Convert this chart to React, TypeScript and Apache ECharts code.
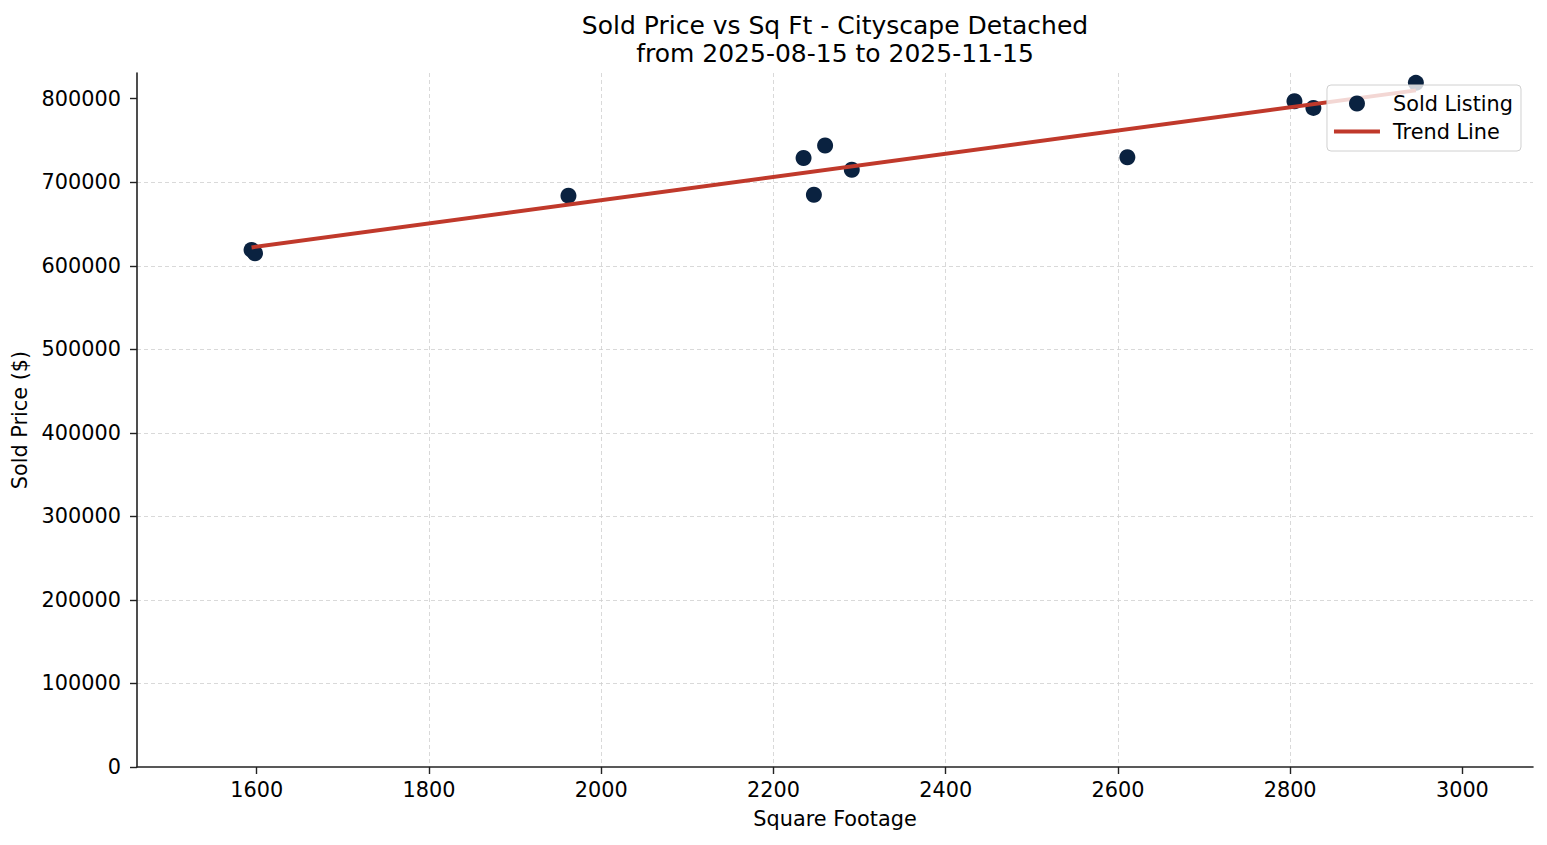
import { useRef, useEffect } from "react";
import * as echarts from "echarts";

// 散点数据：面积 / 成交价
const sqft = [1594, 1598, 1962, 2235, 2247, 2260, 2291, 2611, 2805, 2827, 2946];
const soldPrice = [619000, 615000, 684000, 729000, 685000, 744000, 715000, 730000, 797000, 789000, 819000];

// 趋势线两端
const trendX = [1594, 2946];
const trendY = [622000, 810000];

// 刻度
const xTicks = [1600, 1800, 2000, 2200, 2400, 2600, 2800, 3000];
const yTicks = [0, 100000, 200000, 300000, 400000, 500000, 600000, 700000, 800000];

const titleLines = ["Sold Price vs Sq Ft - Cityscape Detached", "from 2025-08-15 to 2025-11-15"];

const FONT = "DejaVu Sans";
const FS = 20.8;

const App = () => {
  const chartRef = useRef<HTMLDivElement>(null);

  useEffect(() => {
    const myChart = echarts.init(chartRef.current, null, { renderer: "svg" });

    const gridLine = {
      show: true,
      showMinLine: false,
      showMaxLine: false,
      lineStyle: { color: "#cfcfcf", width: 0.8, type: [4, 3] },
    };
    const axisLine = { show: true, lineStyle: { color: "#222", width: 1.6 } };
    const tick = (vals: number[]) => ({
      show: true,
      length: 7,
      customValues: vals,
      lineStyle: { color: "#222", width: 1.4 },
    });
    const label = (vals: number[], margin: number) => ({
      customValues: vals,
      margin,
      fontFamily: FONT,
      fontSize: FS,
      color: "#000",
      formatter: (v: number) => String(v),
    });

    const option = {
      animation: false,
      textStyle: { fontFamily: FONT },
      graphic: [
        {
          type: "text",
          x: 835,
          y: 25,
          style: {
            text: titleLines[0],
            font: `25px "${FONT}"`,
            fill: "#000",
            textAlign: "center",
            textVerticalAlign: "middle",
          },
        },
        {
          type: "text",
          x: 835,
          y: 53,
          style: {
            text: titleLines[1],
            font: `25px "${FONT}"`,
            fill: "#000",
            textAlign: "center",
            textVerticalAlign: "middle",
          },
        },
      ],
      grid: { left: 137, right: 14, top: 73, bottom: 78 },
      legend: {
        orient: "vertical",
        right: 26,
        top: 85,
        padding: [8, 8, 9, 7],
        itemGap: 7,
        itemWidth: 46,
        itemHeight: 16,
        backgroundColor: "rgba(255,255,255,0.8)",
        borderColor: "#d0d0d0",
        borderWidth: 1,
        borderRadius: 4,
        textStyle: { fontFamily: FONT, fontSize: FS, color: "#000", padding: [0, 0, 0, 8] },
        data: [
          { name: "Sold Listing", icon: "circle" },
          { name: "Trend Line", icon: "path://M0,0 L46,0 L46,4 L0,4 Z", itemStyle: { color: "#c0392b" } },
        ],
      },
      xAxis: {
        type: "value",
        min: 1461,
        max: 3082,
        name: "Square Footage",
        nameLocation: "middle",
        nameGap: 41,
        nameTextStyle: { fontFamily: FONT, fontSize: FS, color: "#000" },
        axisLine,
        axisTick: tick(xTicks),
        axisLabel: label(xTicks, 12),
        splitLine: gridLine,
      },
      yAxis: {
        type: "value",
        min: 0,
        max: 830800,
        name: "Sold Price ($)",
        nameLocation: "middle",
        nameGap: 102,
        nameTextStyle: { fontFamily: FONT, fontSize: FS, color: "#000" },
        axisLine,
        axisTick: tick(yTicks),
        axisLabel: label(yTicks, 16),
        splitLine: gridLine,
      },
      series: [
        {
          name: "Sold Listing",
          type: "scatter",
          symbol: "circle",
          symbolSize: 16,
          itemStyle: { color: "#0a2240", opacity: 1 },
          data: sqft.map((x, i) => [x, soldPrice[i]]),
          z: 2,
        },
        {
          name: "Trend Line",
          type: "line",
          symbol: "none",
          lineStyle: { color: "#c0392b", width: 4 },
          itemStyle: { color: "#c0392b" },
          data: trendX.map((x, i) => [x, trendY[i]]),
          z: 3,
        },
      ],
    };

    myChart.setOption(option);

    return () => {
      myChart.dispose();
    };
  }, []);

  return (
    <div
      ref={chartRef}
      style={{ position: "absolute", left: 0, top: 0, width: "1547px", height: "845px", background: "#fff" }}
    ></div>
  );
};

export default App;
